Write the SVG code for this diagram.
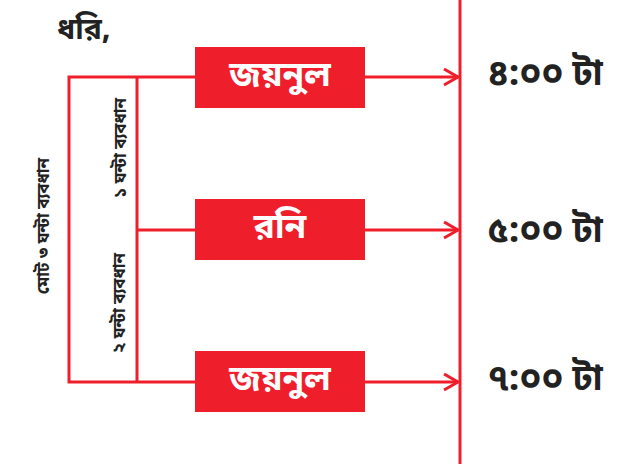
<svg xmlns="http://www.w3.org/2000/svg" width="631" height="466" viewBox="0 0 631 466">
<style>
.ln{stroke:#EE1F2B;stroke-width:3;fill:none}
.box{fill:#EE1F2B}
.bt{font-family:"Noto Sans Bengali","Noto Sans","DejaVu Sans",sans-serif;font-weight:bold;font-size:35px;fill:#fff;text-anchor:middle}
.tm{font-family:"Noto Sans Bengali","Noto Sans","DejaVu Sans",sans-serif;font-weight:bold;font-size:36px;fill:#222;text-anchor:middle}
.vt{font-family:"Noto Sans Bengali","Noto Sans","DejaVu Sans",sans-serif;font-weight:bold;font-size:17px;fill:#222;text-anchor:middle}
.tt{font-family:"Noto Sans Bengali","Noto Sans","DejaVu Sans",sans-serif;font-weight:bold;font-size:30px;fill:#222}
</style>
<defs>
<marker id="ar" markerUnits="userSpaceOnUse" markerWidth="20" markerHeight="20" refX="15" refY="9" orient="auto">
<path d="M1,1 L15,9 L1,17" fill="none" stroke="#EE1F2B" stroke-width="3"/>
</marker>
</defs>
<text class="tt" x="57" y="39">ধরি,</text>
<g id="connectors">
<line class="ln" x1="460" y1="0" x2="460" y2="464"/>
<polyline class="ln" points="195,77 69,77 69,382 195,382"/>
<line class="ln" x1="137" y1="77" x2="137" y2="382"/>
<line class="ln" x1="137" y1="230" x2="195" y2="230"/>
<line class="ln" x1="365" y1="77" x2="458" y2="77" marker-end="url(#ar)"/>
<line class="ln" x1="365" y1="230" x2="458" y2="230" marker-end="url(#ar)"/>
<line class="ln" x1="365" y1="382" x2="458" y2="382" marker-end="url(#ar)"/>
</g>
<g id="label-total"><text class="vt" transform="translate(49,226) rotate(-90)">মোট ৩ ঘন্টা ব্যবধান</text></g>
<g id="label-1h"><text class="vt" transform="translate(126,148) rotate(-90)">১ ঘন্টা ব্যবধান</text></g>
<g id="label-2h"><text class="vt" transform="translate(125,303) rotate(-90)">২ ঘন্টা ব্যবধান</text></g>
<g id="node-zoynul1"><rect class="box" x="195" y="47" width="170" height="61"/><text class="bt" x="280" y="86">জয়নুল</text></g>
<g id="node-roni"><rect class="box" x="195" y="199" width="170" height="61"/><text class="bt" x="280" y="238">রনি</text></g>
<g id="node-zoynul2"><rect class="box" x="195" y="351" width="170" height="61"/><text class="bt" x="280" y="390">জয়নুল</text></g>
<g id="time-4"><text class="tm" x="545" y="85">৪:০০ টা</text></g>
<g id="time-5"><text class="tm" x="545" y="242">৫:০০ টা</text></g>
<g id="time-7"><text class="tm" x="545" y="390">৭:০০ টা</text></g>
</svg>
